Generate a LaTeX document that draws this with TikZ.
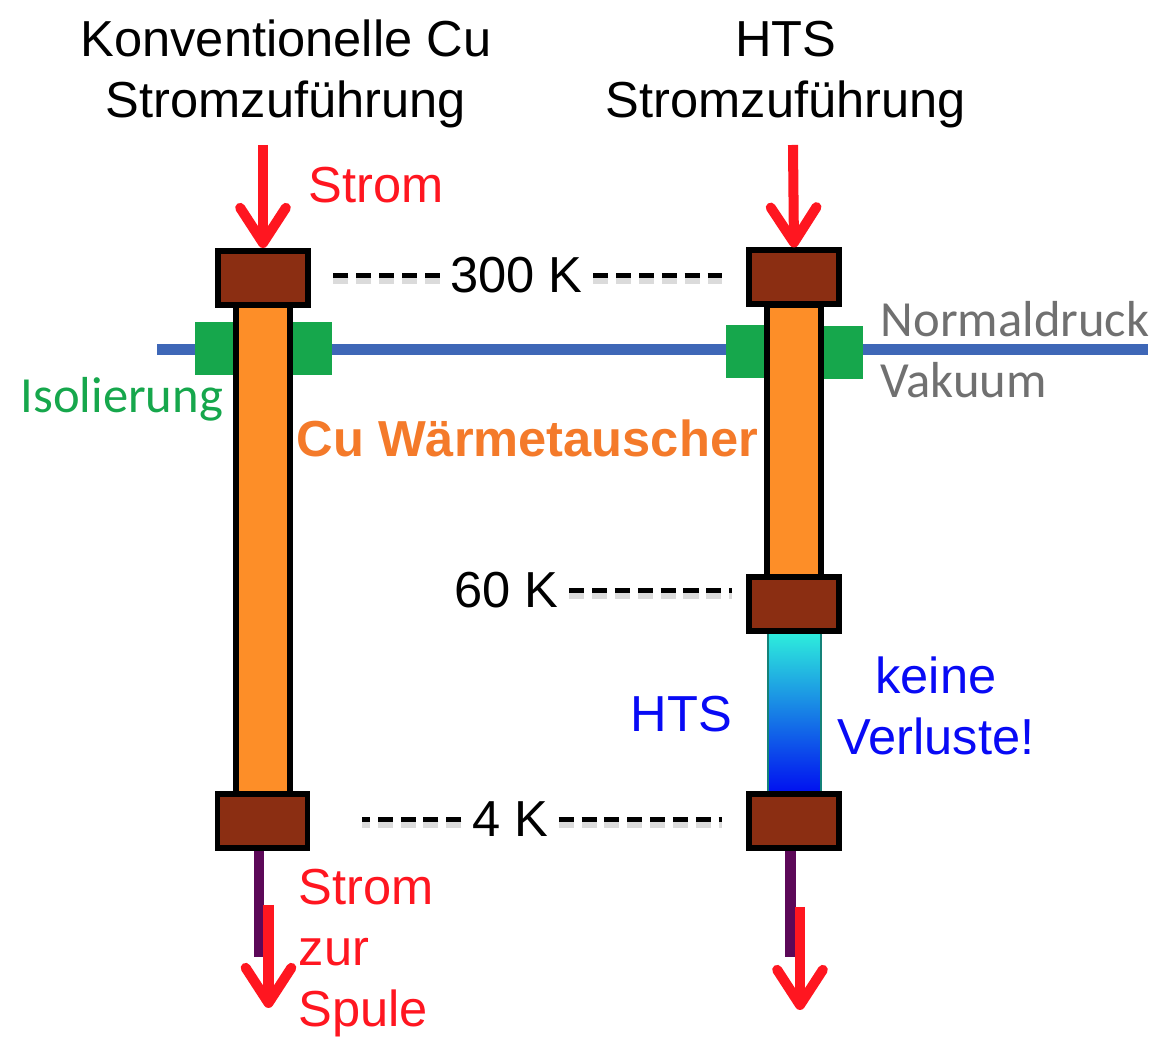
\documentclass[tikz,border=0pt]{standalone}
\usepackage{fontspec}
\setmainfont{Liberation Sans}
\newfontfamily\calfont{Carlito}
\usetikzlibrary{shapes, arrows, arrows.meta}

\definecolor{capbrown}{RGB}{139,46,18}
\definecolor{rodorange}{RGB}{253,142,40}
\definecolor{isogreen}{RGB}{22,167,76}
\definecolor{wallblue}{RGB}{62,103,183}
\definecolor{stromred}{RGB}{255,22,32}
\definecolor{leadpurple}{RGB}{92,8,88}
\definecolor{labelgray}{RGB}{112,112,112}
\definecolor{waermeorange}{RGB}{244,122,42}
\definecolor{htsblue}{RGB}{8,10,245}
\definecolor{htstop}{RGB}{46,240,220}
\definecolor{htsmid}{RGB}{60,100,240}
\definecolor{htsbot}{RGB}{0,14,240}
\definecolor{htsedge}{RGB}{20,130,120}

\newcommand{\bigsize}{\fontsize{14.4}{17.4}\selectfont}

\tikzset{
    capbox/.style={draw, line width=1.7pt, fill=capbrown, minimum width=0.9cm, minimum height=0.54cm},
    rod/.style={draw, line width=1.7pt, fill=rodorange},
    current/.style={->, stromred, line width=2.85pt},
    lead/.style={leadpurple, line width=3.1pt},
    kline/.style={line width=1.5pt, dash pattern=on 4.3pt off 2.2pt,
        preaction={draw=black!14, line width=2pt, dash pattern=on 4.3pt off 2.2pt, transform canvas={yshift=-1.3pt}}},
    temp/.style={inner sep=0.1cm},
    cal/.style={font=\bigsize\calfont},
    >={Straight Barb[length=10pt, width=13pt, round]}
}

\begin{document}
\begin{tikzpicture}[x=1cm, y=-1cm, every node/.style={font=\bigsize, inner sep=0pt}]

        \useasboundingbox (0,0) rectangle (11.71,10.49);

        % Trennwand Normaldruck / Vakuum
        \draw[wallblue, line width=3.4pt] (1.57,3.495) -- (11.48,3.495);
        \foreach \x/\y in {1.95/3.22, 2.92/3.22, 7.26/3.25, 8.23/3.26}
        \fill[isogreen] (\x,\y) rectangle ++(0.40,0.53);

        \draw[rod] (2.36,3.05) rectangle (2.90,7.94);
        \draw[rod] (7.67,3.05) rectangle (8.21,5.77);
        \draw[htsedge, line width=0.6pt, top color=htstop, middle color=htsmid, bottom color=htsbot] (7.68,6.31) rectangle (8.21,7.94);

        \foreach \n/\x/\y in {capLtop/2.63/2.78, capLbot/2.625/8.21, capRtop/7.94/2.775, capRmid/7.94/6.04, capRbot/7.94/8.21}
        \node[capbox] (\n) at (\x,\y) {};

        \draw[lead] ([xshift=-0.035cm]capLbot.south) -- ++(0,1.06);
        \draw[lead] ([xshift=-0.035cm]capRbot.south) -- ++(0,1.06);

        \coordinate (inL) at (2.63,1.45);
        \coordinate (inR) at (7.93,1.45);
        \coordinate (outLa) at (2.685,9.05);
        \coordinate (outLb) at (2.685,10.08);
        \coordinate (outRa) at (8.00,9.07);
        \coordinate (outRb) at (8.00,10.10);
        \draw[current] (inL) -- (capLtop.north);
        \draw[current] (inR) -- (capRtop.north);
        \draw[current] (outLa) -- (outLb);
        \draw[current] (outRa) -- (outRb);

        % anchor=base sitzt auf der letzten Zeile
        \node[align=center, anchor=base] (titleL) at (2.86,1.18) {Konventionelle Cu\\Stromzuführung};
        \node[align=center, anchor=base] (titleR) at (7.86,1.18) {HTS\\Stromzuführung};
        \node[stromred, anchor=base west] (stromIn) at (3.08,2.03) {Strom};
        \node[stromred, align=left, anchor=base west] (stromOut) at (2.98,10.27) {Strom\\zur\\Spule};

        \node[temp, anchor=base] (t300) at (5.165,2.93) {300 K};
        \node[temp, anchor=base] (t60) at (5.065,6.08) {60 K};
        \node[temp, anchor=base] (t4) at (5.10,8.37) {4 K};

        \draw[kline] (t300.west) -- ([xshift=0.16cm]t300.west -| capLtop.east);
        \draw[kline] (t300.east) -- ([xshift=-0.24cm]t300.east -| capRtop.west);
        \draw[kline] (t60.east) -- ([xshift=-0.14cm]t60.east -| capRmid.west);
        \draw[kline] (t4.west) -- ([xshift=0.52cm]t4.west -| capLbot.east);
        \draw[kline] (t4.east) -- ([xshift=-0.24cm]t4.east -| capRbot.west);

        \node[cal, labelgray, anchor=base west] (normal) at (8.80,3.37) {Normaldruck};
        \node[cal, labelgray, anchor=base west] (vakuum) at (8.80,3.98) {Vakuum};
        \node[cal, isogreen, anchor=base west] (isol) at (0.20,4.13) {Isolierung};
        \node[waermeorange, font=\bigsize\bfseries, anchor=base west] (waerme) at (2.96,4.57) {Cu Wärmetauscher};

        \node[htsblue, anchor=base west] (htsLabel) at (6.30,7.32) {HTS};
        \node[htsblue, align=center, anchor=base] (verluste) at (9.36,7.55) {keine\\Verluste!};

\end{tikzpicture}
\end{document}
